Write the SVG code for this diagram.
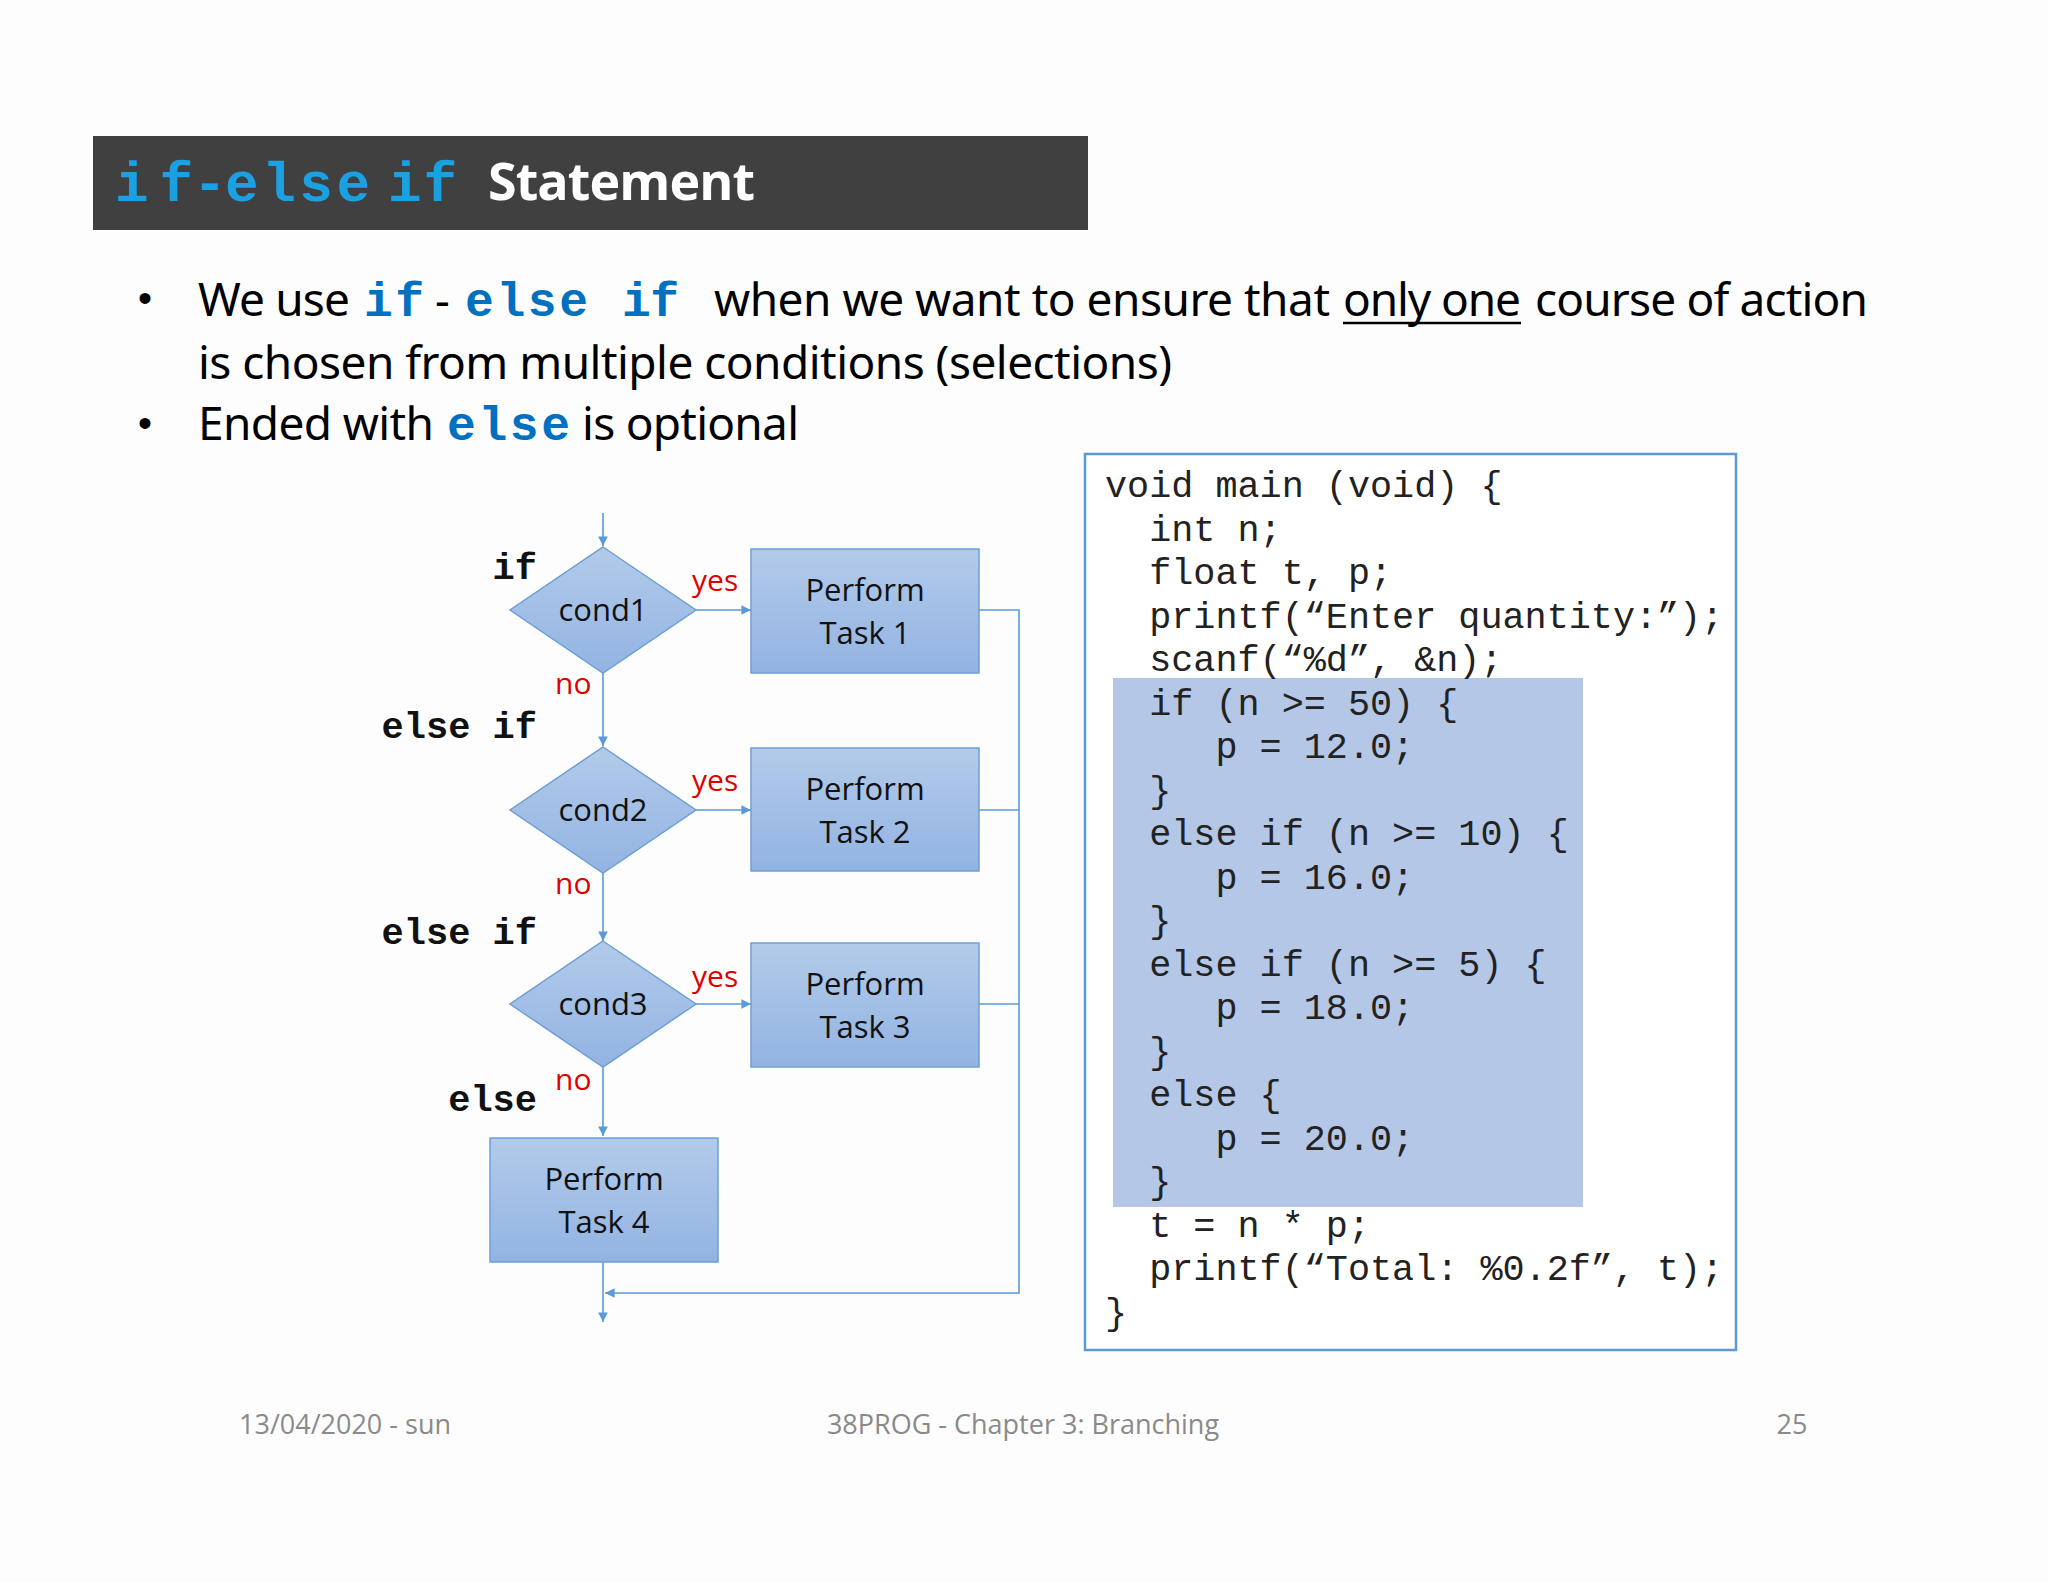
<svg xmlns="http://www.w3.org/2000/svg" width="2048" height="1582" viewBox="0 0 2048 1582">
<defs>
<linearGradient id="g" x1="0" y1="0" x2="0" y2="1"><stop offset="0" stop-color="#b3cbea"/><stop offset="1" stop-color="#92b3e2"/></linearGradient>
<marker id="a" viewBox="0 0 10 10" refX="10" refY="5" markerWidth="6" markerHeight="6" orient="auto"><path d="M0,0L10,5L0,10z" fill="#5b9bd5"/></marker>
<style>
.sh{fill:url(#g);stroke:#6d9fd6;stroke-width:1.5}
.c{fill:none;stroke:#5b9bd5;stroke-width:1.6}
.t{font-family:"Open Sans","Noto Sans",sans-serif;font-size:31px;fill:#111;text-anchor:middle}
.r{font-family:"Open Sans",sans-serif;font-size:30px;fill:#e00000}
.k{font-family:"Liberation Mono",monospace;font-weight:bold;font-size:37px;fill:#111;text-anchor:end}
.b{font-family:"Noto Sans","Open Sans",sans-serif;font-size:46px;fill:#000}
.bc{font-family:"Liberation Mono",monospace;font-weight:bold;font-size:48px;fill:#0070c0}
.code{font-family:"Liberation Mono",monospace;font-size:36.8px;fill:#222;white-space:pre}
.f{font-family:"Open Sans",sans-serif;font-size:27px;fill:#8a8a8a}
</style>
</defs>
<rect width="2048" height="1582" fill="#fdfdfd"/>
<g id="title">
<rect x="93" y="136" width="995" height="94" fill="#404040"/>
<text y="201" font-family="Liberation Mono,monospace" font-weight="bold" font-size="56" fill="#1ba1e2"><tspan x="115" textLength="78">if</tspan><tspan x="193" textLength="28">-</tspan><tspan x="225" textLength="145">else</tspan><tspan x="388" textLength="69">if</tspan></text>
<text x="488" y="200" font-family="Open Sans,sans-serif" font-weight="bold" font-size="52" fill="#fff" textLength="267">Statement</text>
</g>
<g id="bullets">
<text x="138" y="312" font-family="Liberation Sans,sans-serif" font-size="40">•</text>
<text x="138" y="437" font-family="Liberation Sans,sans-serif" font-size="40">•</text>
<text class="b" x="198" y="316" textLength="152">We use</text>
<text class="bc" x="364" y="316" textLength="60">if</text>
<text class="b" x="435" y="316">-</text>
<text class="bc" x="465" y="316" textLength="123">else</text>
<text class="bc" x="622" y="316" textLength="57">if</text>
<text class="b" x="714" y="316" textLength="616">when we want to ensure that</text>
<text class="b" x="1343" y="316" textLength="178">only one</text>
<line x1="1343" y1="323" x2="1521" y2="323" stroke="#000" stroke-width="2.5"/>
<text class="b" x="1535" y="316" textLength="333">course of action</text>
<text class="b" x="198" y="379" textLength="974">is chosen from multiple conditions (selections)</text>
<text class="b" x="198" y="440" textLength="236">Ended with</text>
<text class="bc" x="447" y="440" textLength="123">else</text>
<text class="b" x="582" y="440" textLength="217">is optional</text>
</g>
<g id="connectors">
<path class="c" d="M603,513V546" marker-end="url(#a)"/>
<path class="c" d="M696,610H751" marker-end="url(#a)"/>
<path class="c" d="M603,673V746" marker-end="url(#a)"/>
<path class="c" d="M696,810H751" marker-end="url(#a)"/>
<path class="c" d="M603,873V941" marker-end="url(#a)"/>
<path class="c" d="M696,1004H751" marker-end="url(#a)"/>
<path class="c" d="M603,1067V1136" marker-end="url(#a)"/>
<path class="c" d="M979,610H1019V1293H605" marker-end="url(#a)"/>
<path class="c" d="M979,810H1019M979,1004H1019"/>
<path class="c" d="M603,1262V1322" marker-end="url(#a)"/>
</g>
<g id="d1"><path class="sh" d="M603,547L696,610L603,673L510,610z"/><text class="t" x="603" y="621">cond1</text></g>
<g id="d2"><path class="sh" d="M603,747L696,810L603,873L510,810z"/><text class="t" x="603" y="821">cond2</text></g>
<g id="d3"><path class="sh" d="M603,941L696,1004L603,1067L510,1004z"/><text class="t" x="603" y="1015">cond3</text></g>
<g id="b1"><rect class="sh" x="751" y="549" width="228" height="124"/><text class="t" x="865" y="601">Perform</text><text class="t" x="865" y="644">Task 1</text></g>
<g id="b2"><rect class="sh" x="751" y="748" width="228" height="123"/><text class="t" x="865" y="800">Perform</text><text class="t" x="865" y="843">Task 2</text></g>
<g id="b3"><rect class="sh" x="751" y="943" width="228" height="124"/><text class="t" x="865" y="995">Perform</text><text class="t" x="865" y="1038">Task 3</text></g>
<g id="b4"><rect class="sh" x="490" y="1138" width="228" height="124"/><text class="t" x="604" y="1190">Perform</text><text class="t" x="604" y="1233">Task 4</text></g>
<g id="labels">
<text class="r" x="692" y="591">yes</text><text class="r" x="692" y="791">yes</text><text class="r" x="692" y="987">yes</text>
<text class="r" x="555" y="694">no</text><text class="r" x="555" y="894">no</text><text class="r" x="555" y="1090">no</text>
<text class="k" x="537" y="579">if</text><text class="k" x="537" y="738">else if</text><text class="k" x="537" y="944">else if</text><text class="k" x="537" y="1111">else</text>
</g>
<g id="code">
<rect x="1085" y="454" width="651" height="896" fill="#fff" stroke="#5b9bd5" stroke-width="2.5"/>
<rect x="1113" y="678" width="470" height="529" fill="#b4c7e7"/>
<text class="code" x="1105" y="497">void main (void) {</text>
<text class="code" x="1105" y="541">  int n;</text>
<text class="code" x="1105" y="584">  float t, p;</text>
<text class="code" x="1105" y="628">  printf(“Enter quantity:”);</text>
<text class="code" x="1105" y="671">  scanf(“%d”, &amp;n);</text>
<text class="code" x="1105" y="715">  if (n &gt;= 50) {</text>
<text class="code" x="1105" y="758">     p = 12.0;</text>
<text class="code" x="1105" y="802">  }</text>
<text class="code" x="1105" y="845">  else if (n &gt;= 10) {</text>
<text class="code" x="1105" y="889">     p = 16.0;</text>
<text class="code" x="1105" y="932">  }</text>
<text class="code" x="1105" y="976">  else if (n &gt;= 5) {</text>
<text class="code" x="1105" y="1019">     p = 18.0;</text>
<text class="code" x="1105" y="1063">  }</text>
<text class="code" x="1105" y="1106">  else {</text>
<text class="code" x="1105" y="1150">     p = 20.0;</text>
<text class="code" x="1105" y="1193">  }</text>
<text class="code" x="1105" y="1237">  t = n * p;</text>
<text class="code" x="1105" y="1280">  printf(“Total: %0.2f”, t);</text>
<text class="code" x="1105" y="1324">}</text>
</g>
<g id="footer">
<text class="f" x="239" y="1434">13/04/2020 - sun</text>
<text class="f" x="1023" y="1434" text-anchor="middle">38PROG - Chapter 3: Branching</text>
<text class="f" x="1792" y="1434" text-anchor="middle">25</text>
</g>
</svg>
